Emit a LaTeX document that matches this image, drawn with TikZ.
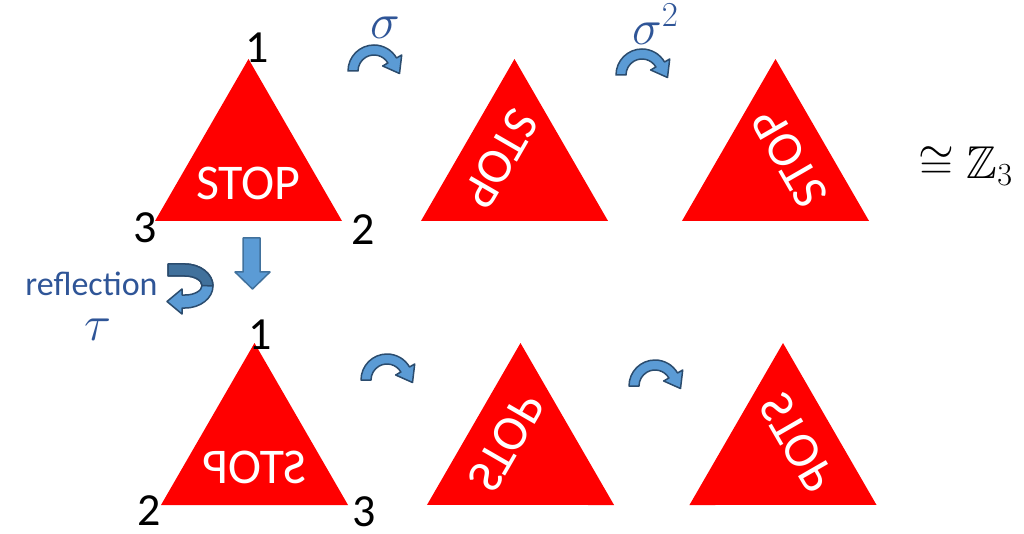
\RequirePackage{fix-cm}
\documentclass[tikz,border=0pt]{standalone}
\usepackage{amssymb}
\usepackage{fontspec}
\newfontfamily\carlito{Carlito}
\definecolor{stopred}{HTML}{FF0000}
\definecolor{arrfill}{HTML}{5B9BD5}
\definecolor{arrline}{HTML}{2B4C6E}
\definecolor{arrdark}{HTML}{41719C}
\definecolor{labblue}{HTML}{2F5597}
\tikzset{
  tri/.style={fill=stopred},
  stoptext/.style={text=white, font=\carlito\fontsize{50}{50}\selectfont, inner sep=0pt, transform shape},
  vlabel/.style={font=\carlito\fontsize{46}{46}\selectfont, inner sep=0pt},
  mathlab/.style={text=labblue, font=\fontsize{50}{50}\selectfont, inner sep=0pt},
  blockarrow/.style={fill=arrfill, draw=arrline, line width=1.5pt, line join=round},
  pics/cwarrow/.style={code={
    \path[blockarrow] (180:26) arc[start angle=180,end angle=330,radius=26]
      -- (330:32) -- (25.5,2.5) -- (330:10) -- (330:16)
      arc[start angle=330,end angle=180,radius=16] -- cycle;
  }},
}
\newcommand\stoptri[4]{%
  \begin{scope}[shift={#2}, rotate=#3]
    \path[tri] (0,-108) -- (-93.5,54) -- (93.5,54) -- cycle;
    \node[stoptext, xscale=#4] (#1) at (0,16.5) {STOP};
  \end{scope}}
\begin{document}
\begin{tikzpicture}[x=1pt,y=-1pt]
\useasboundingbox (0,0) rectangle (1024,534);
% triangles
\stoptri{t1}{(248.5,167)}{0}{1}
\stoptri{t2}{(514.5,167)}{-120}{1}
\stoptri{t3}{(775.5,167)}{120}{1}
\stoptri{b1}{(254.5,451)}{0}{-1}
\stoptri{b2}{(520.5,451)}{-120}{-1}
\stoptri{b3}{(783,451)}{120}{-1}
% vertex labels
\node[vlabel] (v1) at (257,48) {1};
\node[vlabel] (v3) at (145,228) {3};
\node[vlabel] (v2) at (363,230) {2};
\node[vlabel] (w1) at (260,335) {1};
\node[vlabel] (w2) at (149,511) {2};
\node[vlabel] (w3) at (364,512) {3};
% rotation arrows
\pic (r1) at (374,71) {cwarrow};
\pic (r2) at (642,75) {cwarrow};
\pic (r3) at (387,380) {cwarrow};
\pic (r4) at (655,386) {cwarrow};
\node[mathlab] (sig) at (385,28) {$\sigma$};
\node[mathlab, anchor=base west] (sig2) at (632,45) {$\sigma^2$};
% down arrow
\path[blockarrow, draw=arrdark] (243,238) -- (260,238) -- (260,272) -- (270,272)
  -- (252.5,289) -- (235,272) -- (243,272) -- cycle;
% reflection arrow
\path[blockarrow] (168,264) -- (185,264)
  arc[start angle=270, end angle=450, x radius=28, y radius=22]
  -- (182,308) -- (182,314) -- (167,301.5) -- (182,289) -- (182,295) -- (185,295)
  arc[start angle=90, end angle=-90, x radius=17, y radius=9.5] -- (168,276) -- cycle;
\path[fill=arrdark, draw=arrline, line width=1.5pt, line join=round] (168,264) -- (185,264)
  arc[start angle=270, end angle=360, x radius=28, y radius=22]
  -- (202,285.5) arc[start angle=360, end angle=270, x radius=17, y radius=9.5]
  -- (168,276) -- cycle;
\node[text=labblue, font=\carlito\fontsize{34}{34}\selectfont, anchor=base, inner sep=0pt] (refl) at (91.5,295) {reflection};
\node[mathlab] (tau) at (98,330) {$\tau$};
% isomorphism
\node[font=\fontsize{46}{46}\selectfont, anchor=base west, inner sep=0pt] (iso) at (918,179) {$\cong \mathbb{Z}_3$};
\end{tikzpicture}
\end{document}
